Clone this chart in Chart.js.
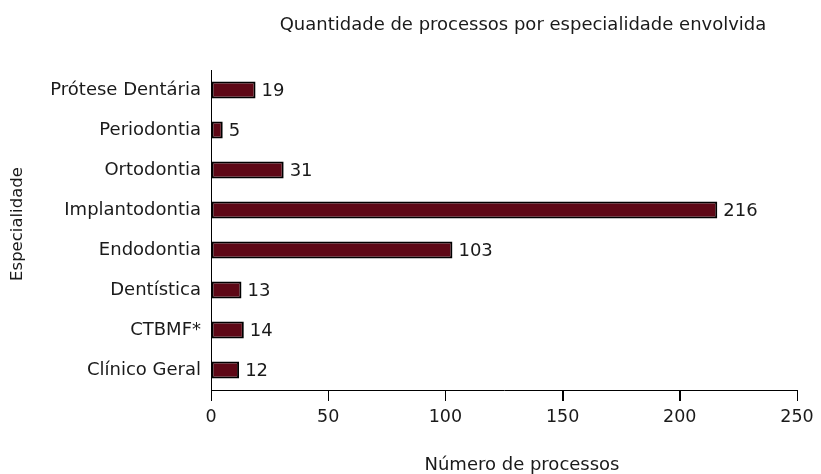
<!DOCTYPE html>
<html><head><meta charset="utf-8">
<script src="https://cdn.jsdelivr.net/npm/chart.js@4.4.1/dist/chart.umd.min.js"></script>
<style>html,body{margin:0;padding:0;background:#fff}#w{width:821px;height:474px}</style>
</head><body><div id="w"><canvas id="c" width="821" height="474"></canvas></div>
<script>
const categories = ["Prótese Dentária","Periodontia","Ortodontia","Implantodontia","Endodontia","Dentística","CTBMF*","Clínico Geral"];
const values = [19,5,31,216,103,13,14,12];
const xTicks = [0,50,100,150,200,250];
const chartTitle = "Quantidade de processos por especialidade envolvida";
const xTitle = "Número de processos";
const yTitle = "Especialidade";

const FONT = "'DejaVu Sans', sans-serif";

const extras = {
  id: 'extras',
  afterDraw(chart) {
    const ctx = chart.ctx;
    const meta = chart.getDatasetMeta(0);
    const xs = chart.scales.x;
    const a = chart.chartArea;
    ctx.save();
    // x tick marks
    ctx.strokeStyle = '#000';
    ctx.lineWidth = 1;
    ctx.beginPath();
    xTicks.forEach(v => {
      const px = Math.round(xs.getPixelForValue(v)) + 0.5;
      ctx.moveTo(px, a.bottom);
      ctx.lineTo(px, a.bottom + 11);
    });
    ctx.stroke();
    // value labels
    ctx.font = '18px ' + FONT;
    ctx.fillStyle = '#1a1a1a';
    ctx.textBaseline = 'middle';
    ctx.textAlign = 'left';
    meta.data.forEach((bar, i) => {
      ctx.fillText(String(values[i]), bar.x + 6, bar.y + 1);
    });
    ctx.textAlign = 'center';
    ctx.fillText(chartTitle, (a.left + a.right) / 2 + 19, 25);
    ctx.fillText(xTitle, (a.left + a.right) / 2 + 18, 465);
    // y title
    ctx.font = '16.5px ' + FONT;
    ctx.translate(18, (a.top + a.bottom) / 2 - 6);
    ctx.rotate(-Math.PI / 2);
    ctx.fillText(yTitle, 0, 0);
    ctx.restore();
  }
};

new Chart(document.getElementById('c'), {
  type: 'bar',
  data: {
    labels: categories,
    datasets: [{
      data: values,
      backgroundColor: '#5e0816',
      borderColor: '#000000',
      borderWidth: 2,
      borderSkipped: false,
      barPercentage: 0.85,
      categoryPercentage: 0.5
    }]
  },
  options: {
    indexAxis: 'y',
    responsive: false,
    animation: false,
    devicePixelRatio: 1,
    layout: { padding: { top: 70, right: 24, left: 0, bottom: 0 } },
    plugins: { legend: { display: false }, tooltip: { enabled: false }, title: { display: false } },
    scales: {
      x: {
        min: 0, max: 250,
        afterBuildTicks(s) { s.ticks = xTicks.map(v => ({ value: v })); },
        afterFit(s) { s.height = 84; },
        grid: { display: true, drawOnChartArea: false, drawTicks: true, tickLength: 11, color: '#000', tickColor: '#000' },
        border: { display: true, color: '#000', width: 1 },
        ticks: { color: '#1a1a1a', font: { family: FONT, size: 17.5 }, padding: 6, maxRotation: 0 }
      },
      y: {
        afterFit(s) { s.width = 211; },
        grid: { drawOnChartArea: false, drawTicks: false },
        border: { display: true, color: '#000', width: 1 },
        ticks: { color: '#1a1a1a', font: { family: FONT, size: 18 }, padding: 10 }
      }
    }
  },
  plugins: [extras]
});
</script></body></html>
